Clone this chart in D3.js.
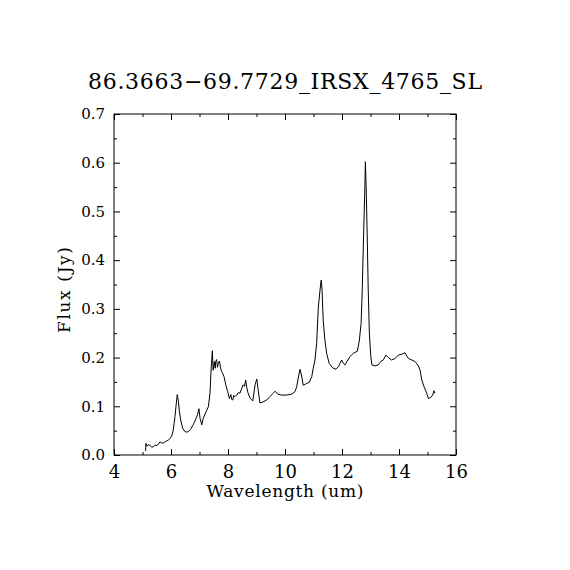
<!DOCTYPE html>
<html>
<head>
<meta charset="utf-8">
<script src="https://cdn.jsdelivr.net/npm/d3@7"></script>
<style>
  body { margin: 0; background: #fff; }
  text { font-family: "DejaVu Serif", serif; fill: #000; }
</style>
</head>
<body>
<div class="chart"></div>
<script>
// spectrum
var wavelength = [5.11, 5.12, 5.16, 5.20, 5.26, 5.32, 5.38, 5.44, 5.50, 5.56, 5.61, 5.67, 5.73, 5.79, 5.85, 5.91,
  5.97, 6.03, 6.08, 6.11, 6.14, 6.18, 6.22, 6.26, 6.29, 6.34, 6.41, 6.49, 6.55, 6.61, 6.69, 6.78,
  6.88, 6.94, 6.98, 7.02, 7.08, 7.13, 7.23, 7.31, 7.37, 7.40, 7.45, 7.48, 7.52, 7.55, 7.57, 7.60,
  7.63, 7.66, 7.70, 7.74, 7.78, 7.81, 7.86, 7.93, 7.99, 8.05, 8.10, 8.13, 8.17, 8.20, 8.22, 8.26,
  8.31, 8.36, 8.42, 8.47, 8.53, 8.58, 8.62, 8.66, 8.70, 8.77, 8.87, 8.95, 9.01, 9.06, 9.12, 9.23,
  9.36, 9.47, 9.59, 9.65, 9.75, 9.88, 10.06, 10.24, 10.35, 10.41, 10.47, 10.53, 10.59, 10.64, 10.76, 10.85,
  10.94, 10.99, 11.05, 11.11, 11.17, 11.23, 11.27, 11.30, 11.34, 11.40, 11.46, 11.55, 11.67, 11.79, 11.87, 11.93,
  11.99, 12.05, 12.11, 12.17, 12.28, 12.40, 12.54, 12.61, 12.67, 12.71, 12.75, 12.80, 12.82, 12.85, 12.89, 12.92,
  12.96, 13.01, 13.05, 13.16, 13.27, 13.36, 13.45, 13.54, 13.63, 13.74, 13.86, 13.98, 14.10, 14.21, 14.33, 14.45,
  14.56, 14.68, 14.74, 14.80, 14.88, 14.97, 15.03, 15.11, 15.18, 15.23, 15.26];

var flux = [0.008, 0.024, 0.018, 0.021, 0.020, 0.016, 0.017, 0.020, 0.020, 0.022, 0.027, 0.025, 0.024, 0.027, 0.029, 0.031,
  0.034, 0.040, 0.051, 0.065, 0.079, 0.103, 0.124, 0.110, 0.092, 0.072, 0.055, 0.048, 0.047, 0.048, 0.053, 0.062,
  0.075, 0.085, 0.095, 0.075, 0.062, 0.075, 0.089, 0.099, 0.127, 0.168, 0.214, 0.174, 0.192, 0.178, 0.192, 0.196,
  0.180, 0.188, 0.193, 0.178, 0.171, 0.168, 0.161, 0.142, 0.130, 0.116, 0.124, 0.114, 0.113, 0.122, 0.120, 0.121,
  0.123, 0.128, 0.127, 0.135, 0.144, 0.141, 0.154, 0.138, 0.128, 0.117, 0.111, 0.144, 0.156, 0.133, 0.107, 0.109,
  0.113, 0.120, 0.127, 0.131, 0.125, 0.123, 0.123, 0.125, 0.130, 0.140, 0.160, 0.176, 0.160, 0.143, 0.147, 0.149,
  0.161, 0.178, 0.195, 0.229, 0.304, 0.339, 0.359, 0.339, 0.277, 0.236, 0.209, 0.188, 0.179, 0.176, 0.181, 0.188,
  0.195, 0.188, 0.185, 0.192, 0.202, 0.209, 0.213, 0.236, 0.270, 0.339, 0.435, 0.544, 0.602, 0.544, 0.435, 0.339,
  0.250, 0.202, 0.185, 0.183, 0.185, 0.192, 0.195, 0.205, 0.200, 0.195, 0.198, 0.205, 0.207, 0.210, 0.198, 0.195,
  0.192, 0.183, 0.174, 0.154, 0.140, 0.127, 0.116, 0.118, 0.123, 0.132, 0.127];

var xTicks = [4, 6, 8, 10, 12, 14, 16];
var yTicks = [0.0, 0.1, 0.2, 0.3, 0.4, 0.5, 0.6, 0.7];

var svgWidth = 570;
var svgHeight = 570;
var margin = { top: 114, right: 114, bottom: 115, left: 114 };
var width = 456 - margin.left;
var height = 455 - margin.top;

var svg = d3.select(".chart")
  .append("svg")
  .attr("width", svgWidth)
  .attr("height", svgHeight);

var chartGroup = svg.append("g")
  .attr("transform", `translate(${margin.left}, ${margin.top})`);

var xScale = d3.scaleLinear().domain([4, 16]).range([0, width]);
var yScale = d3.scaleLinear().domain([0, 0.7]).range([height, 0]);

// minor ticks
var xMinor = d3.range(5, 16, 2);
var yMinor = d3.range(0.05, 0.7, 0.1);

function addAxis(axis, transform) {
  var g = chartGroup.append("g").attr("transform", transform).call(axis);
  g.select(".domain").remove();
  g.selectAll("line").attr("stroke", "#000").attr("stroke-width", 1);
  return g;
}

var fmtY = d3.format(".1f");

// bottom
var bottom = addAxis(d3.axisBottom(xScale).tickValues(xTicks).tickSize(-6).tickPadding(10).tickFormat(d3.format("d")),
  `translate(0, ${height})`);
addAxis(d3.axisBottom(xScale).tickValues(xMinor).tickSize(-3).tickFormat(""), `translate(0, ${height})`);
// top
addAxis(d3.axisTop(xScale).tickValues(xTicks).tickSize(-6).tickFormat(""), "translate(0,0)");
addAxis(d3.axisTop(xScale).tickValues(xMinor).tickSize(-3).tickFormat(""), "translate(0,0)");
// left
var left = addAxis(d3.axisLeft(yScale).tickValues(yTicks).tickSize(-6).tickPadding(9).tickFormat(fmtY), "translate(0,0)");
addAxis(d3.axisLeft(yScale).tickValues(yMinor).tickSize(-3).tickFormat(""), "translate(0,0)");
// right
addAxis(d3.axisRight(yScale).tickValues(yTicks).tickSize(-6).tickFormat(""), `translate(${width},0)`);
addAxis(d3.axisRight(yScale).tickValues(yMinor).tickSize(-3).tickFormat(""), `translate(${width},0)`);

bottom.selectAll("text").attr("font-size", 18).attr("font-family", "DejaVu Serif");
left.selectAll("text").attr("font-size", 15).attr("font-family", "DejaVu Serif");

chartGroup.append("rect")
  .attr("width", width)
  .attr("height", height)
  .attr("fill", "none")
  .attr("stroke", "#000")
  .attr("stroke-width", 1);

var line = d3.line()
  .x((d, i) => xScale(d))
  .y((d, i) => yScale(flux[i]));

chartGroup.append("path")
  .datum(wavelength)
  .attr("d", line)
  .attr("fill", "none")
  .attr("stroke", "#000")
  .attr("stroke-width", 1);

svg.append("text")
  .attr("x", 285)
  .attr("y", 89)
  .attr("text-anchor", "middle")
  .attr("font-size", 22)
  .attr("textLength", 394)
  .attr("lengthAdjust", "spacing")
  .text("86.3663\u221269.7729_IRSX_4765_SL");

svg.append("text")
  .attr("x", 285)
  .attr("y", 497)
  .attr("text-anchor", "middle")
  .attr("font-size", 17)
  .attr("textLength", 157)
  .attr("lengthAdjust", "spacing")
  .text("Wavelength (um)");

svg.append("text")
  .attr("transform", "rotate(-90)")
  .attr("x", -290)
  .attr("y", 70)
  .attr("text-anchor", "middle")
  .attr("font-size", 17)
  .attr("textLength", 86)
  .attr("lengthAdjust", "spacing")
  .text("Flux (Jy)");
</script>
</body>
</html>
